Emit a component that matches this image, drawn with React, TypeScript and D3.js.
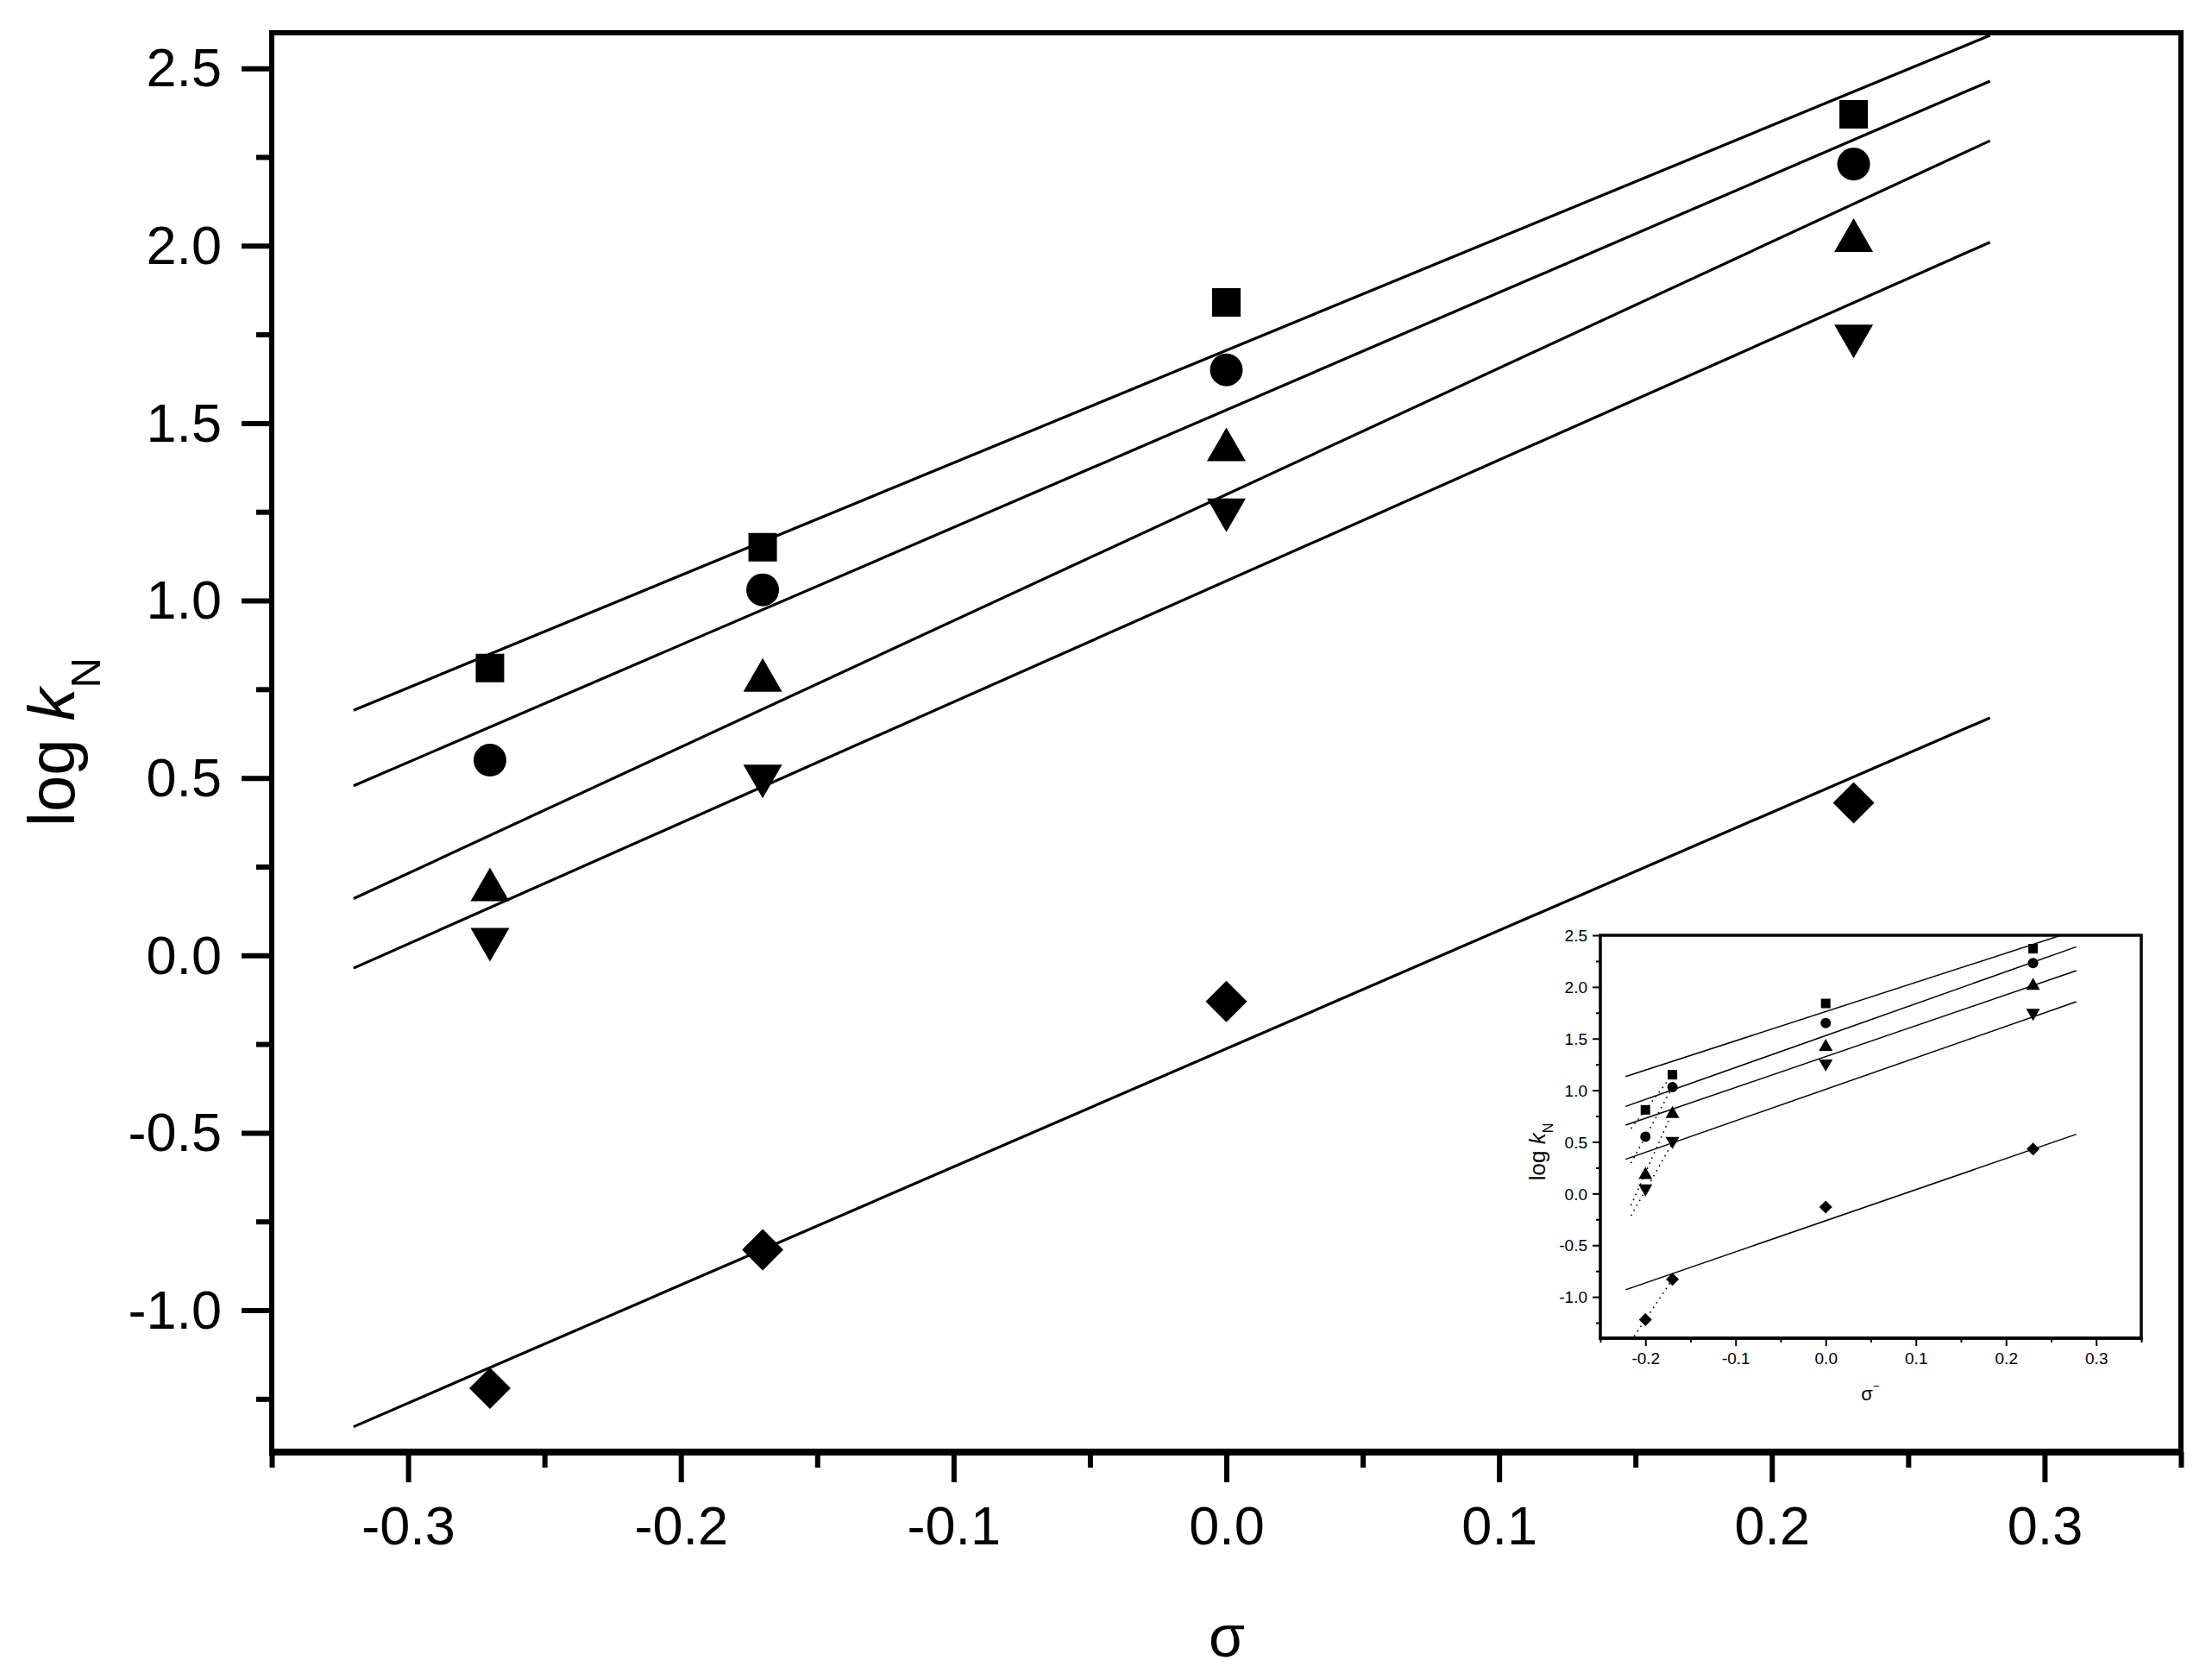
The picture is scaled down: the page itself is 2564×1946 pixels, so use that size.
import React, { useEffect, useRef } from 'react';
import * as d3 from 'd3';

// substituent constants (x values)
const sigma = [-0.27, -0.17, 0, 0.23];
const sigmaMinus = [-0.2, -0.17, 0, 0.23];

// log kN for each amine series
const logKSquare = [0.81, 1.15, 1.84, 2.37];
const logKCircle = [0.55, 1.03, 1.65, 2.23];
const logKTriUp = [0.2, 0.79, 1.44, 2.03];
const logKTriDown = [0.03, 0.49, 1.24, 1.73];
const logKDiamond = [-1.22, -0.83, -0.13, 0.43];

const shapes = ['square', 'circle', 'triUp', 'triDown', 'diamond'];

// fitted lines
const mainSlope = [3.17, 3.31, 3.56, 3.41, 3.33];
const mainIntercept = [1.705, 1.537, 1.299, 1.055, -0.263];
const mainFitRange = [-0.32, 0.28];

const insetSlope = [2.83, 3.09, 2.99, 3.05, 3.01];
const insetIntercept = [1.761, 1.529, 1.326, 1.009, -0.263];
const insetFitRange = [-0.222, 0.278];
const insetDotStart = -0.216;

// tick values
const xTicksMain = [-0.3, -0.2, -0.1, 0, 0.1, 0.2, 0.3];
const xMinorMain = [-0.35, -0.25, -0.15, -0.05, 0.05, 0.15, 0.25, 0.35];
const xTicksInset = [-0.2, -0.1, 0, 0.1, 0.2, 0.3];
const xMinorInset = [-0.25, -0.15, -0.05, 0.05, 0.15, 0.25, 0.35];
const yTicks = [-1.0, -0.5, 0, 0.5, 1.0, 1.5, 2.0, 2.5];
const yMinor = [-1.25, -0.75, -0.25, 0.25, 0.75, 1.25, 1.75, 2.25];

const FONT = "'Liberation Sans', Arial, Helvetica, sans-serif";

function markerPath(shape: string, s: any) {
  const p = d3.path();
  if (shape === 'square') {
    p.rect(-s.sq / 2, -s.sq / 2, s.sq, s.sq);
  } else if (shape === 'circle') {
    p.arc(0, 0, s.r, 0, 2 * Math.PI);
  } else if (shape === 'triUp') {
    p.moveTo(0, -s.th / 2);
    p.lineTo(s.tw / 2, s.th / 2);
    p.lineTo(-s.tw / 2, s.th / 2);
    p.closePath();
  } else if (shape === 'triDown') {
    p.moveTo(0, s.th / 2);
    p.lineTo(s.tw / 2, -s.th / 2);
    p.lineTo(-s.tw / 2, -s.th / 2);
    p.closePath();
  } else {
    p.moveTo(0, -s.dm);
    p.lineTo(s.dm, 0);
    p.lineTo(0, s.dm);
    p.lineTo(-s.dm, 0);
    p.closePath();
  }
  return p.toString();
}

function drawPanel(root: any, o: any) {
  const { x, y } = o;
  const [left, right] = x.range();
  const [bottom, top] = y.range();
  const g = root.append('g');

  g.append('rect')
    .attr('x', left).attr('y', top)
    .attr('width', right - left).attr('height', bottom - top)
    .attr('fill', 'white');

  const clipId = o.id + '-clip';
  g.append('clipPath').attr('id', clipId)
    .append('rect')
    .attr('x', left).attr('y', top)
    .attr('width', right - left).attr('height', bottom - top);

  const series = [logKSquare, logKCircle, logKTriUp, logKTriDown, logKDiamond];
  const line = d3.line<number[]>().x(d => x(d[0])).y(d => y(d[1]));

  const plot = g.append('g').attr('clip-path', `url(#${clipId})`);

  // fit lines
  o.slopes.forEach((m: number, i: number) => {
    const b = o.intercepts[i];
    plot.append('path')
      .attr('d', line(o.fitRange.map((xv: number) => [xv, b + m * xv])))
      .attr('fill', 'none').attr('stroke', 'black')
      .attr('stroke-width', o.lineW);
  });

  // dotted lines through the first two points (inset only)
  if (o.dotted) {
    series.forEach(vals => {
      const x0 = o.xs[0], x1 = o.xs[1];
      const m = (vals[1] - vals[0]) / (x1 - x0);
      const y0 = vals[0] + m * (o.dotStart - x0);
      plot.append('path')
        .attr('d', line([[o.dotStart, y0], [x1, vals[1]]]))
        .attr('fill', 'none').attr('stroke', 'black')
        .attr('stroke-width', 1.6)
        .attr('stroke-dasharray', '1.6,5');
    });
  }

  // markers
  series.forEach((vals, i) => {
    plot.selectAll(null)
      .data(vals.map((v, j) => [o.xs[j], v]))
      .join('path')
      .attr('transform', (d: number[]) => `translate(${x(d[0])},${y(d[1])})`)
      .attr('d', markerPath(shapes[i], o.marker))
      .attr('fill', 'black');
  });

  // axes
  const fmt = (d: any) => (+d).toFixed(1);
  const yAx = g.append('g').attr('transform', `translate(${left},0)`)
    .call(d3.axisLeft(y).tickValues(yTicks).tickSize(o.majorLen).tickPadding(o.yPad).tickFormat(fmt))
    .attr('font-size', o.fs).attr('font-family', FONT);
  yAx.select('.domain').remove();
  yAx.selectAll('line').attr('stroke-width', o.tickW);
  yAx.selectAll('text').attr('dy', o.yDy).attr('fill', 'black');

  const yMin = g.append('g').attr('transform', `translate(${left},0)`)
    .call(d3.axisLeft(y).tickValues(yMinor).tickSize(o.minorLen).tickFormat(() => ''));
  yMin.select('.domain').remove();
  yMin.selectAll('line').attr('stroke-width', o.tickW);

  const xAx = g.append('g').attr('transform', `translate(0,${bottom})`)
    .call(d3.axisBottom(x).tickValues(o.xTicks).tickSize(o.majorLen).tickFormat(fmt))
    .attr('font-size', o.fs).attr('font-family', FONT);
  xAx.select('.domain').remove();
  xAx.selectAll('line').attr('stroke-width', o.tickW);
  xAx.selectAll('text').attr('y', o.xLabelY).attr('dy', 0).attr('fill', 'black');

  const xMin = g.append('g').attr('transform', `translate(0,${bottom})`)
    .call(d3.axisBottom(x).tickValues(o.xMinor).tickSize(o.minorLen).tickFormat(() => ''));
  xMin.select('.domain').remove();
  xMin.selectAll('line').attr('stroke-width', o.tickW);

  // frame
  g.append('rect')
    .attr('x', left).attr('y', top)
    .attr('width', right - left).attr('height', bottom - top)
    .attr('fill', 'none').attr('stroke', 'black')
    .attr('stroke-width', o.frameW);
  g.append('line')
    .attr('x1', left - o.frameW / 2).attr('x2', right + o.frameW / 2)
    .attr('y1', bottom).attr('y2', bottom)
    .attr('stroke', 'black').attr('stroke-width', o.bottomW);

  // y title
  const yt = g.append('text')
    .attr('transform', `translate(${o.yTitle[0]},${o.yTitle[1]}) rotate(-90)`)
    .attr('text-anchor', 'middle')
    .attr('font-family', FONT)
    .attr('font-size', o.titleFs);
  yt.append('tspan').text('log ');
  yt.append('tspan').attr('font-style', 'italic').text('k');
  yt.append('tspan').attr('font-size', o.subFs).attr('dy', o.subDy).text('N');

  // x title
  const xt = g.append('text')
    .attr('x', o.xTitle[0]).attr('y', o.xTitle[1])
    .attr('text-anchor', 'middle')
    .attr('font-family', FONT)
    .attr('font-size', o.xTitleFs);
  xt.append('tspan').text('σ');
  if (o.xTitleSup) {
    xt.append('tspan').attr('font-size', o.xTitleFs * 0.6).attr('dy', -o.xTitleFs * 0.55).text(o.xTitleSup);
  }
}

export default function App() {
  const svgRef = useRef<SVGSVGElement>(null);

  useEffect(() => {
    const svg = d3.select(svgRef.current);
    svg.selectAll('*').remove();

    const xMain = d3.scaleLinear().domain([-0.35, 0.35]).range([315, 2528]);
    const yMain = d3.scaleLinear().domain([-1.4, 2.6]).range([1683, 38]);

    drawPanel(svg, {
      id: 'main', x: xMain, y: yMain, xs: sigma,
      slopes: mainSlope, intercepts: mainIntercept, fitRange: mainFitRange,
      dotted: false, lineW: 3.2,
      marker: { sq: 33, r: 19, tw: 45, th: 39, dm: 24 },
      xTicks: xTicksMain, xMinor: xMinorMain,
      majorLen: 35, minorLen: 18, tickW: 6, frameW: 6, bottomW: 8,
      fs: 63, yPad: 23, yDy: '0.33em', xLabelY: 107,
      yTitle: [86, 860], titleFs: 76, subFs: 49, subDy: 30,
      xTitle: [1422, 1920], xTitleFs: 68,
    });

    const xIn = d3.scaleLinear().domain([-0.25, 0.35]).range([1855, 2482]);
    const yIn = d3.scaleLinear().domain([-1.4, 2.5]).range([1551, 1084]);

    drawPanel(svg, {
      id: 'inset', x: xIn, y: yIn, xs: sigmaMinus,
      slopes: insetSlope, intercepts: insetIntercept, fitRange: insetFitRange,
      dotted: true, dotStart: insetDotStart, lineW: 1.5,
      marker: { sq: 11, r: 6, tw: 16, th: 14, dm: 7.5 },
      xTicks: xTicksInset, xMinor: xMinorInset,
      majorLen: 9, minorLen: 5, tickW: 2, frameW: 3.5, bottomW: 3.5,
      fs: 19, yPad: 6, yDy: '0.35em', xLabelY: 30,
      yTitle: [1791, 1335], titleFs: 26, subFs: 16, subDy: 9,
      xTitle: [2168, 1623], xTitleFs: 22, xTitleSup: '−',
    });
  }, []);

  return (
    <svg
      ref={svgRef}
      width={2564}
      height={1946}
      style={{ position: 'absolute', left: 0, top: 0, background: 'white' }}
    />
  );
}
